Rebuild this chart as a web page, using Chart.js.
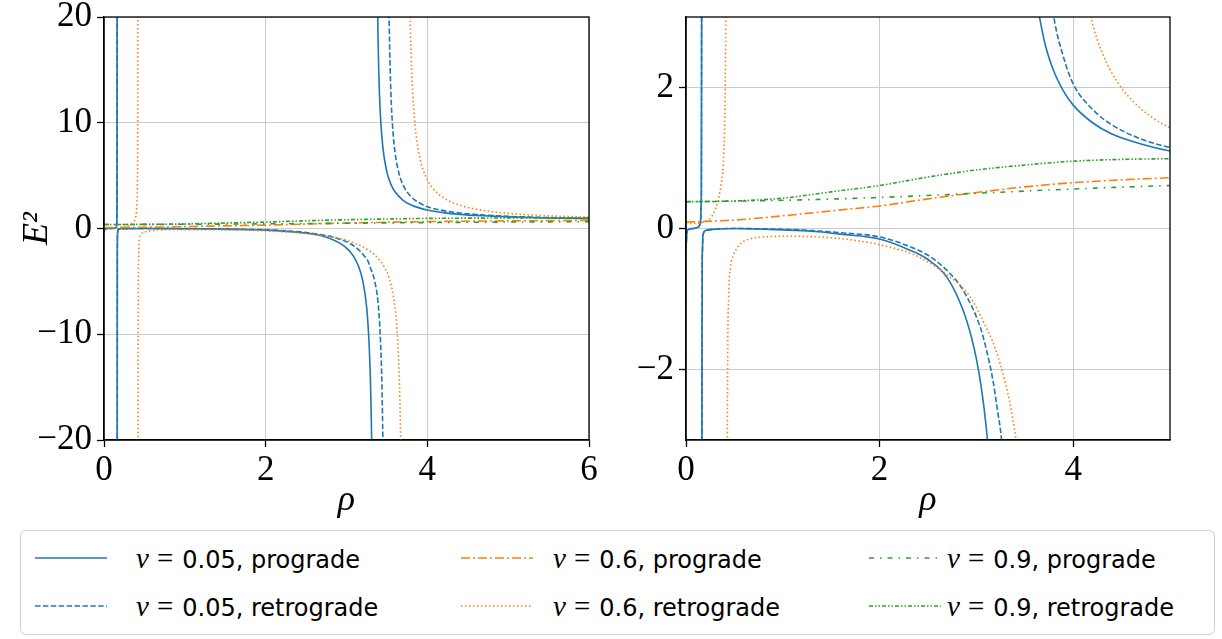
<!DOCTYPE html>
<html>
<head>
<meta charset="utf-8">
<script src="https://cdn.jsdelivr.net/npm/chart.js@4.4.1/dist/chart.umd.min.js"></script>
<style>
  body { margin: 0; background: #fff; width: 1222px; height: 639px; position: relative; overflow: hidden; }
  canvas { position: absolute; top: 0; }
  #left { left: 0; }
  #right { left: 600px; }
  #legend { position: absolute; left: 20px; top: 530px; width: 1195px; height: 105px; box-sizing: border-box;
            border: 1.5px solid #d0d0d0; border-radius: 6px; background: #fff; }
  .item { position: absolute; height: 40px; display: flex; align-items: center; }
  .item svg { position: absolute; top: 18px; }
  .txt { position: absolute; white-space: nowrap; font-family: "DejaVu Sans", sans-serif; font-size: 24px; color: #000; top: 4px; }
  .m { font-family: "Liberation Serif", serif; font-size: 29px; }
  .eq { font-style: normal; margin: 0 9px 0 8px; }
</style>
</head>
<body>
<canvas id="left" width="600" height="530"></canvas>
<canvas id="right" width="600" height="530"></canvas>
<div id="legend"></div>
<script>
// series labels and styles
const seriesLabels = ['ν=0.05, prograde', 'ν=0.05, retrograde', 'ν=0.6, prograde',
                      'ν=0.6, retrograde', 'ν=0.9, prograde', 'ν=0.9, retrograde'];
const seriesColors = ['#1f77b4', '#1f77b4', '#ff7f0e', '#ff7f0e', '#2ca02c', '#2ca02c'];
const seriesDash = [[], [5.5, 2.4], [9, 3, 2, 3], [1.5, 2.5], [5, 6, 1.5, 6], [4, 2, 1.5, 2, 1.5, 2]];

// rho values and E^2 values (null = pole)
const rhoA = [0, 0.01, 0.03, 0.08, 0.13, 0.15, 0.158, 0.1615, 0.1625, 0.163,
              0.1635, 0.1645, 0.168, 0.175, 0.2, 0.3, 0.5, 0.8, 1.0, 1.3, 1.6, 2.0, 2.3, 2.5, 2.7, 2.86, 2.95, 3.0, 3.05, 3.1, 3.15, 3.2, 3.25, 3.28, 3.3, 3.32, 3.33,
              3.35, 3.37, 3.38, 3.39, 3.40, 3.42, 3.45, 3.5, 3.55, 3.6, 3.7, 3.8, 3.9, 4.0, 4.2, 4.4, 4.7, 5.0, 5.5, 6.0];
const e2A  = [-0.3, -0.05, -0.01, 0, 0.02, 0.08, 0.4, 3, 40, null,
              -40, -3, -0.4, -0.1, -0.03, -0.01, 0, -0.01, -0.02, -0.04, -0.08, -0.15, -0.3, -0.44, -0.7, -1.15, -1.55, -1.85, -2.25, -2.8, -3.6, -4.9, -7.5, -11, -15.5, -26, -40,
              null, 35.5, 23.9, 18.1, 14.6, 10.6, 7.65, 5.33, 4.17, 3.47, 2.67, 2.23, 1.95, 1.75, 1.50, 1.34, 1.20, 1.10, 1.00, 0.94];

const rhoB = [0, 0.01, 0.03, 0.08, 0.13, 0.15, 0.158, 0.1615, 0.1625, 0.163,
              0.1635, 0.1645, 0.168, 0.175, 0.2, 0.3, 0.5, 0.8, 1.0, 1.3, 1.6, 2.0, 2.3, 2.5, 2.7, 2.86, 3.04, 3.1, 3.17, 3.22, 3.26, 3.3, 3.35, 3.39, 3.42, 3.44, 3.46, 3.47,
              3.49, 3.505, 3.51, 3.52, 3.53, 3.55, 3.57, 3.6, 3.65, 3.7, 3.8, 3.9, 4.0, 4.2, 4.4, 4.7, 5.0, 5.5, 6.0];
const e2B  = [-0.3, -0.05, -0.01, 0, 0.02, 0.08, 0.4, 3, 40, null,
              -40, -3, -0.4, -0.1, -0.03, -0.01, 0, -0.005, -0.01, -0.03, -0.06, -0.12, -0.25, -0.38, -0.6, -0.87, -1.4, -1.7, -2.15, -2.6, -3.0, -3.8, -5.0, -7.0, -10.5, -15.5, -27, -40,
              null, 48.8, 36.7, 24.7, 18.7, 12.7, 9.69, 7.23, 5.18, 4.11, 3.0, 2.43, 2.05, 1.69, 1.47, 1.27, 1.15, 1.03, 0.96];

const rhoC = [0, 0.5, 1.0, 1.5, 2.0, 2.5, 3.0, 3.5, 4.0, 4.5, 5.0, 5.5, 6.0];
const e2C  = [0.09, 0.12, 0.18, 0.25, 0.32, 0.42, 0.51, 0.59, 0.65, 0.69, 0.72, 0.75, 0.77];

const rhoD = [0, 0.1, 0.18, 0.23, 0.27, 0.31, 0.34, 0.36, 0.38, 0.39, 0.40, 0.405, 0.41, 0.414, 0.417, 0.419, 0.4195,
              0.4203,
              0.421, 0.4215, 0.423, 0.426, 0.43, 0.44, 0.46, 0.49, 0.53, 0.575, 0.65, 0.8, 1.07, 1.49, 1.8, 2.0, 2.35, 2.69, 2.93, 3.1, 3.2, 3.3, 3.35, 3.41, 3.47, 3.53, 3.58, 3.62, 3.65, 3.67, 3.68, 3.69,
              3.72,
              3.745, 3.75, 3.76, 3.78, 3.8, 3.84, 3.9, 4.0, 4.1, 4.2, 4.3, 4.45, 4.6, 4.8, 5.0, 5.3, 5.6, 6.0];
const e2D  = [0.07, 0.075, 0.09, 0.12, 0.18, 0.3, 0.45, 0.6, 0.8, 1.05, 1.5, 2.0, 2.8, 4.5, 9, 25, 50,
              null,
              -50, -25, -9, -4, -2, -1.0, -0.55, -0.38, -0.27, -0.2, -0.15, -0.12, -0.11, -0.13, -0.18, -0.23, -0.37, -0.65, -0.96, -1.4, -1.72, -2.2, -2.5, -3.0, -3.65, -4.74, -6.4, -9.1, -13.5, -20, -26.5, -40,
              null,
              73, 55, 37, 22.5, 16.2, 10.5, 7.0, 4.62, 3.53, 2.9, 2.49, 2.09, 1.83, 1.59, 1.43, 1.27, 1.17, 1.08];

const rhoE = [0, 1, 2, 3, 4, 5, 6];
const e2E  = [0.38, 0.40, 0.44, 0.50, 0.56, 0.61, 0.65];

const rhoF = [0, 0.5, 1, 1.5, 2, 2.5, 3, 3.5, 4, 4.5, 5, 6];
const e2F  = [0.38, 0.39, 0.43, 0.52, 0.61, 0.73, 0.83, 0.90, 0.955, 0.98, 0.99, 1.0];

const rhoAll = [rhoA, rhoB, rhoC, rhoD, rhoE, rhoF];
const e2All = [e2A, e2B, e2C, e2D, e2E, e2F];

// axis ticks
const leftXTicks = [0, 2, 4, 6];
const leftYTicks = [-20, -10, 0, 10, 20];
const rightXTicks = [0, 2, 4];
const rightYTicks = [-2, 0, 2];

Chart.defaults.color = '#000';
const GRID = '#cccccc';
const tickFont = { family: '"Liberation Serif", serif', size: 35, lineHeight: 1 };
const titleFont = { family: '"Liberation Serif", serif', size: 36, style: 'italic', lineHeight: 1.2 };
const fmt = v => String(v).replace('-', '\u2212');

function makeDatasets() {
  return rhoAll.map((xs, i) => ({
    label: seriesLabels[i],
    data: xs.map((x, j) => ({ x: x, y: e2All[i][j] })),
    borderColor: seriesColors[i],
    borderDash: seriesDash[i],
    borderWidth: 1.6,
    pointRadius: 0,
    fill: false,
    spanGaps: false,
    cubicInterpolationMode: 'monotone',
    order: 5 - i
  }));
}

const framePlugin = {
  id: 'frame',
  afterDraw(chart) {
    const { ctx, chartArea: a } = chart;
    ctx.save();
    ctx.strokeStyle = '#000';
    ctx.lineWidth = 1.3;
    ctx.strokeRect(a.left, a.top, a.right - a.left, a.bottom - a.top);
    ctx.restore();
  }
};

function panelOptions(cfg) {
  return {
    responsive: false,
    animation: false,
    layout: { padding: { left: 0, top: 17, right: cfg.padRight, bottom: 0 } },
    plugins: { legend: { display: false }, tooltip: { enabled: false } },
    scales: {
      x: {
        type: 'linear', min: 0, max: cfg.xMax,
        afterBuildTicks: s => { s.ticks = cfg.xTicks.map(v => ({ value: v })); },
        afterFit: s => { s.height = 90; s.paddingLeft = 0; s.paddingRight = 0; },
        grid: { color: GRID, lineWidth: 1, tickLength: 7, tickColor: '#000', tickWidth: 1.3 },
        border: { color: '#000', width: 1.3 },
        ticks: { font: tickFont, padding: 6, maxRotation: 0, autoSkip: false, callback: fmt },
        title: { display: true, text: 'ρ', font: titleFont, padding: { top: 0, bottom: 8 } }
      },
      y: {
        type: 'linear', min: cfg.yMin, max: cfg.yMax,
        afterBuildTicks: s => { s.ticks = cfg.yTicks.map(v => ({ value: v })); },
        afterFit: s => { s.width = cfg.yWidth; s.paddingTop = 0; s.paddingBottom = 0; },
        grid: { color: GRID, lineWidth: 1, tickLength: 7, tickColor: '#000', tickWidth: 1.3 },
        border: { color: '#000', width: 1.3 },
        ticks: { font: tickFont, padding: 5, autoSkip: false, callback: fmt },
        title: { display: cfg.yTitle, text: 'E²', font: titleFont, padding: { top: 16, bottom: 0 } }
      }
    }
  };
}

new Chart(document.getElementById('left'), {
  type: 'line',
  data: { datasets: makeDatasets() },
  options: panelOptions({ xMax: 6, yMin: -20, yMax: 20, xTicks: leftXTicks, yTicks: leftYTicks, yTitle: true, yWidth: 104, padRight: 11 }),
  plugins: [framePlugin]
});

new Chart(document.getElementById('right'), {
  type: 'line',
  data: { datasets: makeDatasets() },
  options: panelOptions({ xMax: 5, yMin: -3, yMax: 3, xTicks: rightXTicks, yTicks: rightYTicks, yTitle: false, yWidth: 86, padRight: 30 }),
  plugins: [framePlugin]
});

// shared legend below the panels
const legend = document.getElementById('legend');
const colLine = [14, 440, 848];
const colText = [115, 532, 926];
const rowTop = [7, 55];
seriesLabels.forEach((label, i) => {
  const col = Math.floor(i / 2), row = i % 2;
  const item = document.createElement('div');
  item.className = 'item';
  item.style.left = '0px';
  item.style.top = rowTop[row] + 'px';
  const dash = seriesDash[i].join(' ');
  item.innerHTML =
    `<svg style="left:${colLine[col]}px" width="72" height="4"><line x1="0" y1="2" x2="72" y2="2" stroke="${seriesColors[i]}" stroke-width="1.5" ${dash ? `stroke-dasharray="${dash}"` : ''}/></svg>`;
  const [lhs, rhs] = label.split('=');
  const txt = document.createElement('span');
  txt.className = 'txt';
  txt.style.left = colText[col] + 'px';
  txt.innerHTML = `<i class="m">${lhs}</i><span class="m eq">=</span>${rhs}`;
  item.appendChild(txt);
  legend.appendChild(item);
});
</script>
</body>
</html>
